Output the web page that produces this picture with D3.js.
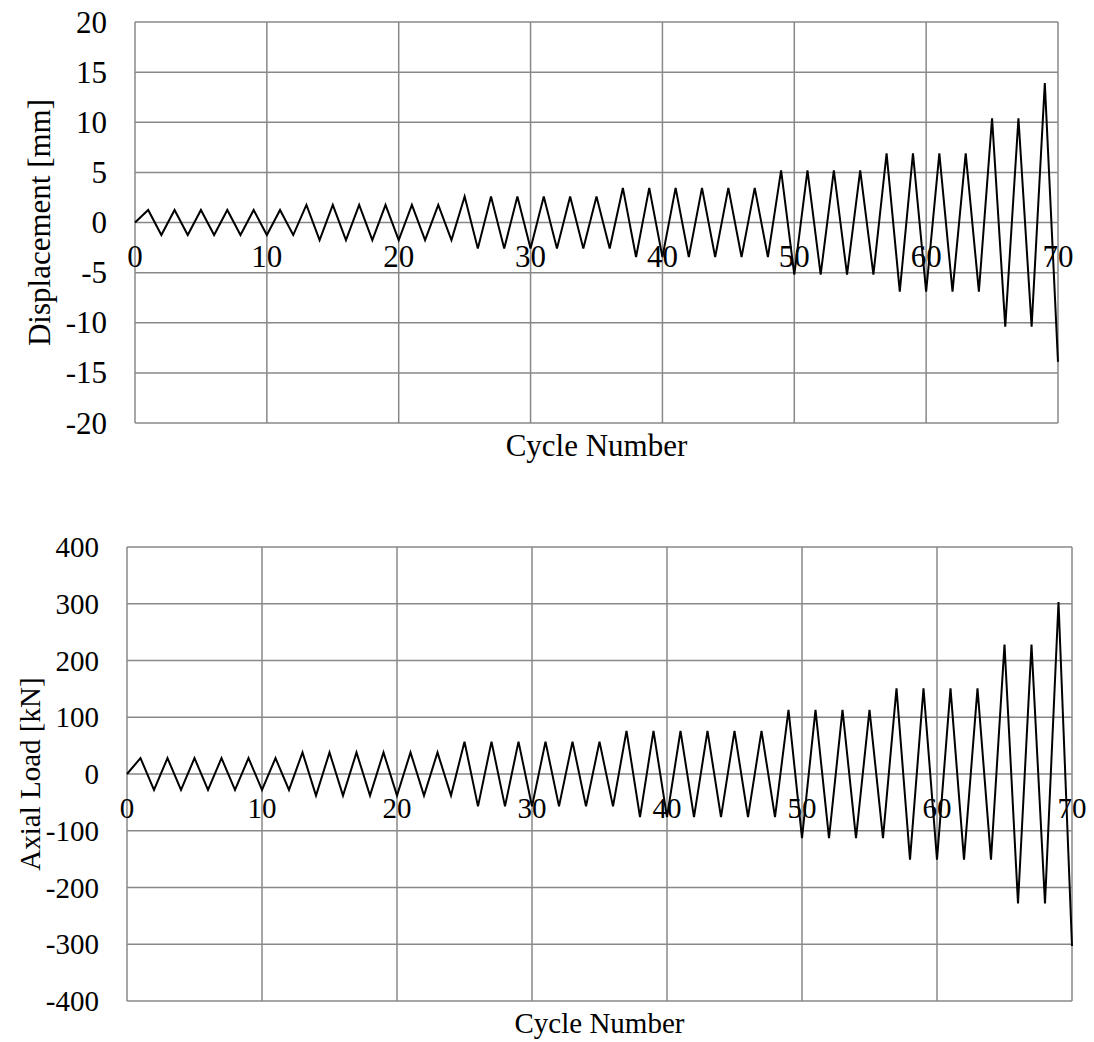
<!DOCTYPE html>
<html>
<head>
<meta charset="utf-8">
<script src="https://cdn.jsdelivr.net/npm/d3@7"></script>
<style>
  html, body { margin: 0; padding: 0; background: #fff; }
  svg { display: block; }
  text { font-family: "Liberation Serif", "Times New Roman", serif; fill: #000; }
</style>
</head>
<body>
<svg id="chart" width="1094" height="1042"></svg>
<script>
// ---- Data ----
const cycles = d3.range(0, 71);
const displacement = [0,
  1.25,-1.25, 1.25,-1.25, 1.25,-1.25, 1.25,-1.25, 1.25,-1.25, 1.25,-1.25,
  1.75,-1.75, 1.75,-1.75, 1.75,-1.75, 1.75,-1.75, 1.75,-1.75, 1.75,-1.75,
  2.6,-2.6, 2.6,-2.6, 2.6,-2.6, 2.6,-2.6, 2.6,-2.6, 2.6,-2.6,
  3.45,-3.45, 3.45,-3.45, 3.45,-3.45, 3.45,-3.45, 3.45,-3.45, 3.45,-3.45,
  5.2,-5.2, 5.2,-5.2, 5.2,-5.2, 5.2,-5.2,
  6.9,-6.9, 6.9,-6.9, 6.9,-6.9, 6.9,-6.9,
  10.4,-10.4, 10.4,-10.4,
  13.9,-13.9];
const axialLoad = [0,
  28,-28, 28,-28, 28,-28, 28,-28, 28,-28, 28,-28,
  38,-38, 38,-38, 38,-38, 38,-38, 38,-38, 38,-38,
  57,-57, 57,-57, 57,-57, 57,-57, 57,-57, 57,-57,
  76,-76, 76,-76, 76,-76, 76,-76, 76,-76, 76,-76,
  113,-113, 113,-113, 113,-113, 113,-113,
  151,-151, 151,-151, 151,-151, 151,-151,
  228,-228, 228,-228,
  303,-303];
const xTicks = [0, 10, 20, 30, 40, 50, 60, 70];
const dispTicks = [-20, -15, -10, -5, 0, 5, 10, 15, 20];
const loadTicks = [-400, -300, -200, -100, 0, 100, 200, 300, 400];
const xTitle = "Cycle Number";
const dispTitle = "Displacement [mm]";
const loadTitle = "Axial Load [kN]";

const svg = d3.select("#chart");
const gridColor = "#888888";

function panel(cfg) {
  const x = d3.scaleLinear().domain([0, 70]).range([cfg.left, cfg.right]);
  const y = d3.scaleLinear().domain([cfg.yTicks[0], cfg.yTicks[cfg.yTicks.length - 1]]).range([cfg.bottom, cfg.top]);
  const g = svg.append("g");

  // horizontal gridlines
  g.append("g").selectAll("line").data(cfg.yTicks).join("line")
    .attr("x1", cfg.left).attr("x2", cfg.right)
    .attr("y1", d => y(d)).attr("y2", d => y(d))
    .attr("stroke", gridColor).attr("stroke-width", 1.5);
  // vertical gridlines
  g.append("g").selectAll("line").data(xTicks).join("line")
    .attr("x1", d => x(d)).attr("x2", d => x(d))
    .attr("y1", cfg.top).attr("y2", cfg.bottom)
    .attr("stroke", gridColor).attr("stroke-width", 1.5);

  // y tick labels
  g.append("g").selectAll("text").data(cfg.yTicks).join("text")
    .attr("x", cfg.left - 28).attr("y", d => y(d))
    .attr("text-anchor", "end").attr("dominant-baseline", "central")
    .style("font-size", cfg.font + "px")
    .text(d => d);

  // x tick labels (next to the zero line)
  g.append("g").selectAll("text").data(xTicks).join("text")
    .attr("x", d => x(d)).attr("y", y(0) + 44)
    .attr("text-anchor", "middle")
    .style("font-size", cfg.font + "px")
    .text(d => d);

  // data line
  const line = d3.line().x((d, i) => x(cycles[i])).y(d => y(d));
  g.append("path").datum(cfg.values)
    .attr("d", line)
    .attr("fill", "none").attr("stroke", "#000").attr("stroke-width", 2)
    .attr("stroke-linejoin", "miter");

  // x title
  g.append("text")
    .attr("x", (cfg.left + cfg.right) / 2).attr("y", cfg.xTitleY)
    .attr("text-anchor", "middle")
    .style("font-size", cfg.font + "px")
    .text(xTitle);

  // y title
  g.append("text")
    .attr("transform", `translate(${cfg.yTitleX},${(cfg.top + cfg.bottom) / 2}) rotate(-90)`)
    .attr("text-anchor", "middle")
    .style("font-size", cfg.font + "px")
    .text(cfg.yTitle);
}

panel({ left: 135, right: 1058, top: 22, bottom: 423, yTicks: dispTicks, values: displacement,
        font: 31, xTitleY: 456, yTitleX: 50, yTitle: dispTitle });
panel({ left: 127, right: 1072, top: 547, bottom: 1001, yTicks: loadTicks, values: axialLoad,
        font: 29, xTitleY: 1033, yTitleX: 40, yTitle: loadTitle });
</script>
</body>
</html>
